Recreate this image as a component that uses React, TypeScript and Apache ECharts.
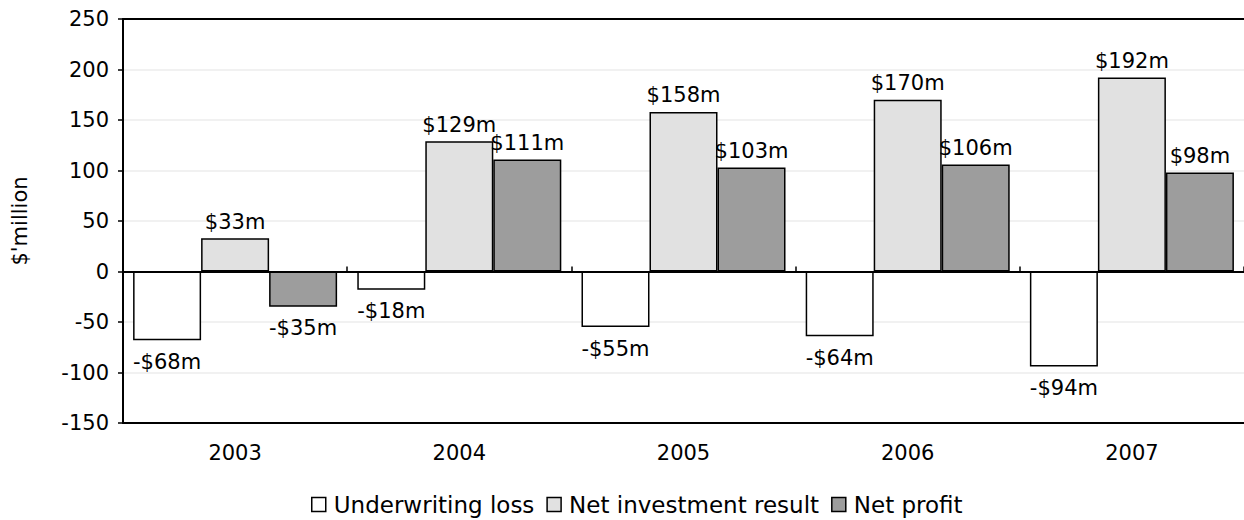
import React, { useEffect, useRef } from "react";
import * as echarts from "echarts";

const years = ["2003", "2004", "2005", "2006", "2007"];
const underwritingLoss = [-68, -18, -55, -64, -94];
const netInvestmentResult = [33, 129, 158, 170, 192];
const netProfit = [-35, 111, 103, 106, 98];

const seriesNames = ["Underwriting loss", "Net investment result", "Net profit"];
const seriesColors = ["#ffffff", "#e1e1e1", "#9d9d9d"];

const FONT = "DejaVu Sans";

const fmt = (v: number) => (v < 0 ? `-$${-v}m` : `$${v}m`);

function barSeries(name: string, values: number[], color: string) {
  return {
    name,
    type: "bar",
    barGap: "0%",
    barCategoryGap: "9%",
    itemStyle: { color, borderColor: "#000", borderWidth: 1.5 },
    data: values.map((v) => ({
      value: v,
      label: v < 0 ? { position: "bottom", distance: 11 } : { position: "top", distance: 6 },
    })),
    label: {
      show: true,
      fontFamily: FONT,
      fontSize: 21,
      color: "#000",
      formatter: (p: any) => fmt(p.value),
    },
  };
}

export default function App() {
  const ref = useRef<HTMLDivElement>(null);

  useEffect(() => {
    if (!ref.current) return;
    const chart = echarts.init(ref.current, undefined, { renderer: "svg" });
    const hiddenAxis = {
      type: "category",
      data: years,
      axisLabel: { show: false },
      axisTick: { show: false },
      splitLine: { show: false },
    };
    chart.setOption({
      animation: false,
      backgroundColor: "#ffffff",
      textStyle: { fontFamily: FONT },
      grid: { left: 123, right: -2, top: 19, bottom: 97 },
      legend: {
        top: 493,
        left: 311,
        padding: 0,
        itemWidth: 14,
        itemHeight: 14,
        itemGap: 12,
        icon: "rect",
        itemStyle: { borderColor: "#000", borderWidth: 1.5 },
        textStyle: { fontFamily: FONT, fontSize: 23, color: "#000", padding: [0, 0, 0, 3] },
        data: seriesNames,
      },
      xAxis: [
        {
          type: "category",
          data: years,
          position: "bottom",
          axisLine: { show: true, onZero: false, lineStyle: { color: "#000", width: 2 } },
          axisTick: { show: false },
          axisLabel: { fontFamily: FONT, fontSize: 21, color: "#000", margin: 19 },
          splitLine: { show: false },
        },
        {
          ...hiddenAxis,
          position: "bottom",
          axisLine: { show: true, onZero: true, lineStyle: { color: "#000", width: 2 } },
          axisTick: { show: true, inside: true, length: 5, lineStyle: { color: "#000", width: 1.5 } },
        },
        {
          ...hiddenAxis,
          position: "top",
          axisLine: { show: true, onZero: false, lineStyle: { color: "#000", width: 2 } },
        },
      ],
      yAxis: {
        type: "value",
        min: -150,
        max: 250,
        interval: 50,
        name: "$'million",
        nameLocation: "middle",
        nameGap: 93,
        nameTextStyle: { fontFamily: FONT, fontSize: 21, color: "#000" },
        axisLine: { show: true, lineStyle: { color: "#000", width: 2 } },
        axisTick: { show: true, length: 5, lineStyle: { color: "#000", width: 1.5 } },
        axisLabel: { fontFamily: FONT, fontSize: 21, color: "#000", margin: 14 },
        splitLine: { show: true, lineStyle: { color: "#ececec", width: 1.5 } },
      },
      series: [
        barSeries(seriesNames[0], underwritingLoss, seriesColors[0]),
        barSeries(seriesNames[1], netInvestmentResult, seriesColors[1]),
        barSeries(seriesNames[2], netProfit, seriesColors[2]),
      ],
    });
    return () => chart.dispose();
  }, []);

  return (
    <div
      ref={ref}
      style={{ position: "absolute", left: 0, top: 0, width: 1244, height: 520 }}
    />
  );
}
